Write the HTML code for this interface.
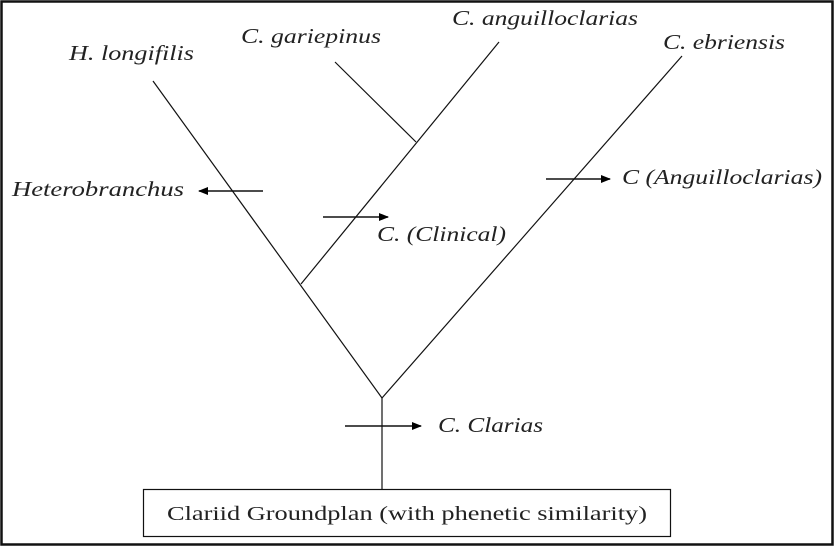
<!DOCTYPE html>
<html><head><meta charset="utf-8"><style>
html,body{margin:0;padding:0;background:#fff;}
svg{display:block;}
text{font-family:"Liberation Serif",serif;font-style:italic;font-size:21px;fill:#222;}
</style></head><body>
<svg width="835" height="547" viewBox="0 0 835 547" xmlns="http://www.w3.org/2000/svg">
<defs><marker id="a" markerWidth="10" markerHeight="8" refX="9" refY="4" orient="auto" markerUnits="userSpaceOnUse"><path d="M0,0 L10,4 L0,8 Z" fill="#000"/></marker></defs>
<rect x="1.5" y="1.5" width="831" height="543" fill="none" stroke="#111" stroke-width="2.5"/>
<g stroke="#111" stroke-width="1.2" fill="none">
<line x1="153" y1="81" x2="382" y2="398"/>
<line x1="382" y1="398" x2="682" y2="56"/>
<line x1="499" y1="42" x2="301" y2="284"/>
<line x1="335" y1="62" x2="416" y2="142"/>
<line x1="382" y1="398" x2="382" y2="489"/>
</g>
<g stroke="#111" stroke-width="1.6">
<line x1="263" y1="191" x2="199" y2="191" marker-end="url(#a)"/>
<line x1="323" y1="217" x2="388" y2="217" marker-end="url(#a)"/>
<line x1="546" y1="179" x2="610" y2="179" marker-end="url(#a)"/>
<line x1="345" y1="426" x2="421" y2="426" marker-end="url(#a)"/>
</g>
<text x="69" y="60" textLength="125" lengthAdjust="spacingAndGlyphs">H. longifilis</text>
<text x="241" y="43" textLength="140" lengthAdjust="spacingAndGlyphs">C. gariepinus</text>
<text x="452" y="25" textLength="186" lengthAdjust="spacingAndGlyphs">C. anguilloclarias</text>
<text x="663" y="49" textLength="122" lengthAdjust="spacingAndGlyphs">C. ebriensis</text>
<text x="12" y="196" textLength="172" lengthAdjust="spacingAndGlyphs">Heterobranchus</text>
<text x="377" y="241" textLength="129" lengthAdjust="spacingAndGlyphs">C. (Clinical)</text>
<text x="622" y="184" textLength="200" lengthAdjust="spacingAndGlyphs">C (Anguilloclarias)</text>
<text x="438" y="432" textLength="105" lengthAdjust="spacingAndGlyphs">C. Clarias</text>
<rect x="143.5" y="489.5" width="527" height="47" fill="#fff" stroke="#111" stroke-width="1.2"/>
<text x="407" y="520" text-anchor="middle" style="font-style:normal;font-size:20px" textLength="480" lengthAdjust="spacingAndGlyphs">Clariid Groundplan (with phenetic similarity)</text>
</svg>
</body></html>
